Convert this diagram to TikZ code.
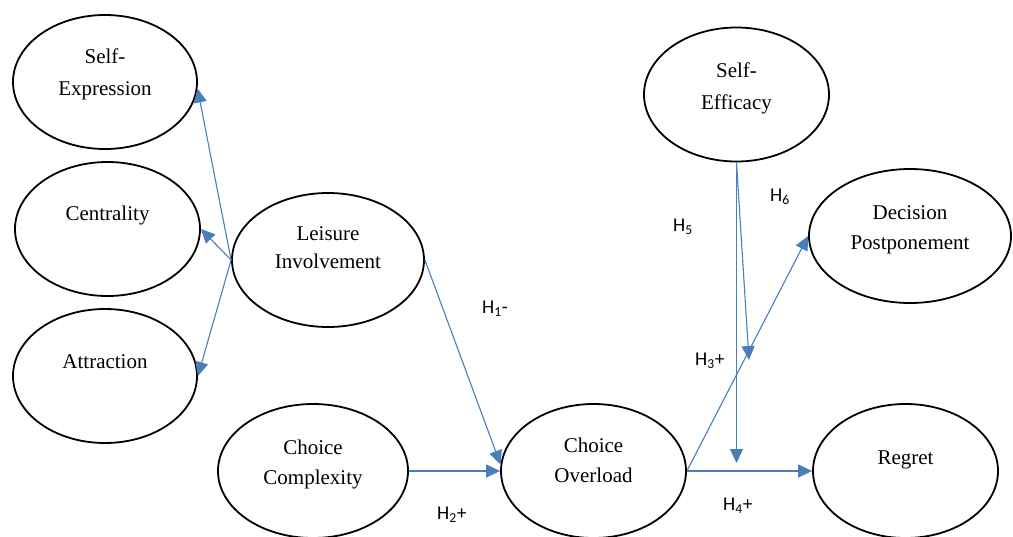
\documentclass[tikz,border=0pt]{standalone}
\usepackage{fontspec}
\setmainfont{Liberation Serif}
\newfontfamily\hfont{Carlito}
\usetikzlibrary{shapes.geometric,arrows.meta}
\definecolor{arr}{HTML}{4A7EBB}
\begin{document}
\begin{tikzpicture}[x=1pt,y=-1pt,
  ell/.style={draw,line width=1.8pt,ellipse,minimum width=185pt,minimum height=134pt,inner sep=0pt},
  lab/.style={font=\fontsize{21}{30}\selectfont,align=center,anchor=base},
  conn/.style={draw=arr,line width=1.1pt,-{Triangle[length=14pt,width=13pt]}},
  hyp/.style={font=\hfont\fontsize{19.5}{22}\selectfont,anchor=base west,inner sep=0pt}]
\useasboundingbox (0,0) rectangle (1013,536);
% constructs
\node[ell,minimum width=184pt,label={[lab,yshift=8pt]center:Self-\\[2pt]Expression}] (se) at (105,82) {};
\node[ell,label={[lab,yshift=14pt]center:Centrality}] (ce) at (107.5,229) {};
\node[ell,minimum width=184pt,label={[lab,yshift=14pt]center:Attraction}] (at) at (105,376) {};
\node[ell,minimum width=192pt,label={[lab,yshift=12pt]center:Leisure\\[-2pt]Involvement}] (li) at (328,260) {};
\node[ell,minimum width=190pt,label={[lab,yshift=7pt]center:Choice\\Complexity}] (cc) at (313,471) {};
\node[ell,label={[lab,yshift=11pt]center:Choice\\Overload}] (co) at (593.5,471) {};
\node[ell,label={[lab,yshift=6.5pt]center:Self-\\[2pt]Efficacy}] (sf) at (736.5,94.5) {};
\node[ell,minimum width=202pt,label={[lab,yshift=6pt]center:Decision\\Postponement}] (dp) at (910,236) {};
\node[ell,label={[lab,yshift=11pt]center:Regret}] (rg) at (905.5,471) {};
% free ends
\coordinate (h5end) at (736.5,463);
\coordinate (h6end) at (749,360);
% connectors
\draw[conn] (li.west) -- (se.-4);
\draw[conn] (li.west) -- (ce.east);
\draw[conn] (li.west) -- (at.east);
\draw[conn] (li.east) -- (co.176);
\draw[conn] (cc.east) -- (co.west);
\draw[conn] (co.east) -- (rg.west);
\draw[conn] (co.east) -- (dp.west);
\draw[conn] (sf.south) -- (h5end);
\draw[conn] (sf.south) -- (h6end);
% hypothesis labels
\node[hyp] (h1) at (482,313) {H\textsubscript{1}-};
\node[hyp] (h2) at (437,519) {H\textsubscript{2}+};
\node[hyp] (h3) at (695,365) {H\textsubscript{3}+};
\node[hyp] (h4) at (723,510) {H\textsubscript{4}+};
\node[hyp] (h5) at (673,231) {H\textsubscript{5}};
\node[hyp] (h6) at (770,201) {H\textsubscript{6}};
\end{tikzpicture}
\end{document}
